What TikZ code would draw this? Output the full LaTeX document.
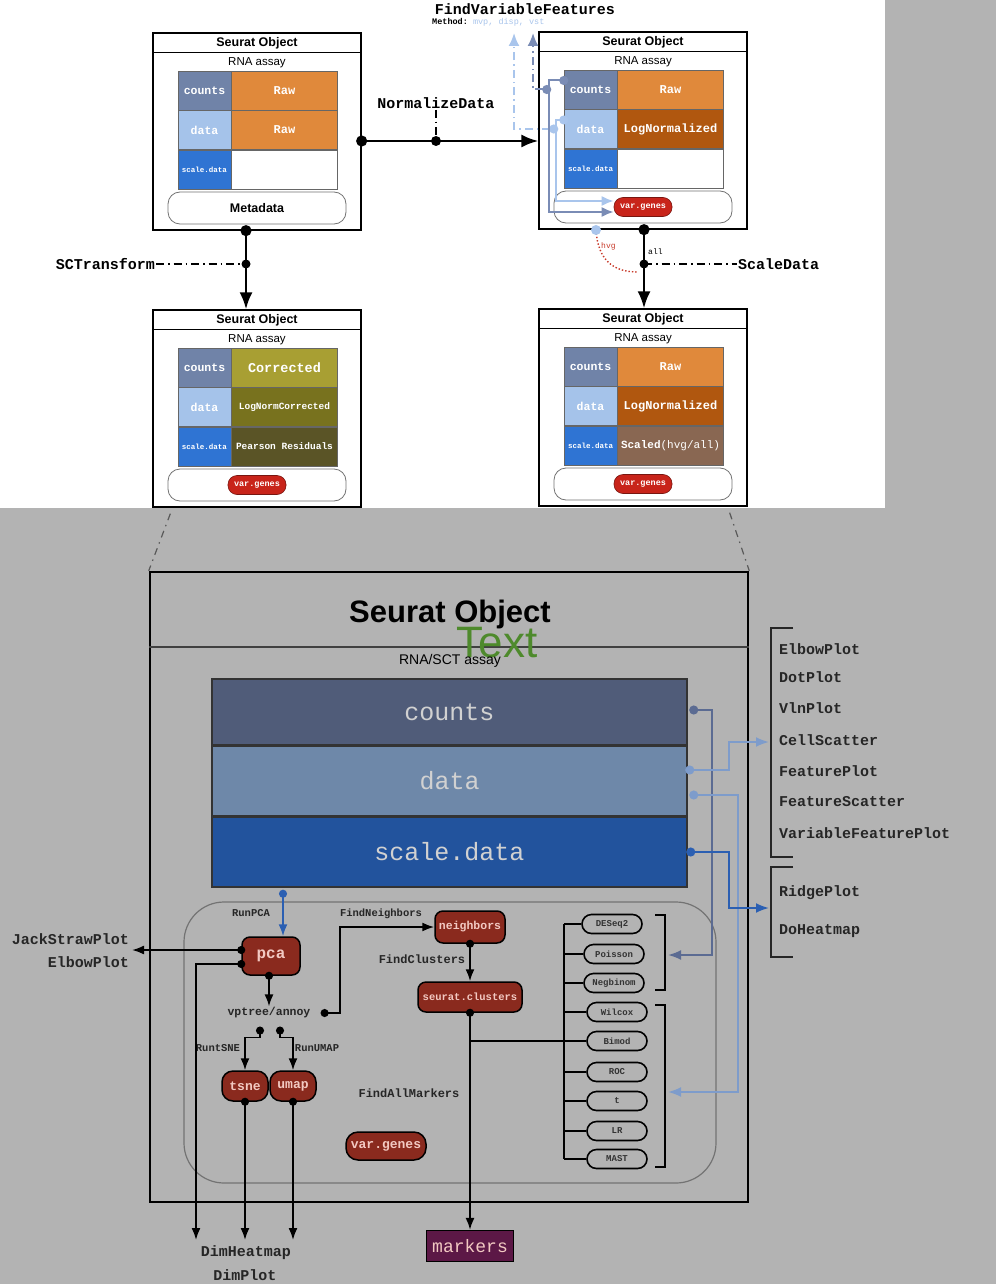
\documentclass[tikz,border=0pt]{standalone}
\usepackage{fontspec}
\setmainfont{Liberation Sans}
\setsansfont{Liberation Sans}
\setmonofont{Liberation Mono}
\usetikzlibrary{arrows.meta,positioning}
\definecolor{bggrey}{HTML}{B3B3B3}
\definecolor{cntcol}{HTML}{7083A8}
\definecolor{datcol}{HTML}{A5C3EA}
\definecolor{sclcol}{HTML}{2F74D3}
\definecolor{rawcol}{HTML}{E0893B}
\definecolor{lognormcol}{HTML}{B0570F}
\definecolor{corrcol}{HTML}{A89F33}
\definecolor{lncorrcol}{HTML}{78721E}
\definecolor{pearsoncol}{HTML}{5A5426}
\definecolor{scaledcol}{HTML}{896752}
\definecolor{pillred}{HTML}{C8241A}
\definecolor{darkred}{HTML}{8A2A1E}
\definecolor{pinktxt}{HTML}{F2C9C2}
\definecolor{bigcnt}{HTML}{505C79}
\definecolor{bigdat}{HTML}{6E88A9}
\definecolor{bigscl}{HTML}{22539D}
\definecolor{slatearr}{HTML}{5B6B92}
\definecolor{lightarr}{HTML}{7E9CCB}
\definecolor{deeparr}{HTML}{2B5FB2}
\definecolor{fvfblue}{HTML}{A9C5EC}
\definecolor{fvfslate}{HTML}{7A8CB5}
\definecolor{hvgred}{HTML}{C83A2A}
\definecolor{textgreen}{HTML}{4E8A2C}
\definecolor{markercol}{HTML}{5C1846}
\begin{document}
\begin{tikzpicture}[x=1pt,y=-1pt,
  objbox/.style={draw,line width=1.3pt,minimum width=208pt,minimum height=197pt,inner sep=0pt},
  lblcell/.style={draw=black!60,line width=0.5pt,minimum width=53pt,minimum height=39pt,inner sep=0pt,text=white,font=\ttfamily\bfseries\fontsize{11.5}{12}\selectfont},
  valcell/.style={draw=black!60,line width=0.5pt,minimum width=106pt,minimum height=39pt,inner sep=0pt,text=white,font=\ttfamily\bfseries\fontsize{12}{12}\selectfont},
  slotbox/.style={draw=black!55,line width=0.8pt,rounded corners=12pt,minimum width=178pt,minimum height=32pt,inner sep=0pt},
  redpill/.style={fill=pillred,draw=pillred!60!black,line width=0.6pt,rounded corners=9pt,minimum width=58pt,minimum height=19pt,inner sep=0pt,text=white,font=\ttfamily\bfseries\fontsize{8.5}{9}\selectfont},
  fnlbl/.style={font=\ttfamily\bfseries\fontsize{15}{15}\selectfont,inner sep=1pt},
  steplbl/.style={font=\ttfamily\bfseries\fontsize{10.5}{11}\selectfont,text=black!85,inner sep=1pt},
  plotlbl/.style={font=\ttfamily\bfseries\fontsize{15}{15}\selectfont,text=black!85,inner sep=0pt,anchor=west},
  rnode/.style={fill=darkred,draw=black,line width=1.5pt,rounded corners=8pt,inner sep=0pt,text=pinktxt},
  testpill/.style={draw=black,line width=1.6pt,rounded corners=9.5pt,minimum width=60pt,minimum height=19pt,inner sep=0pt,text=black!80,font=\ttfamily\bfseries\fontsize{9}{9}\selectfont},
  bigcell/.style={draw=black!80,line width=1.5pt,minimum width=475pt,inner sep=0pt,text=black!18,font=\ttfamily\fontsize{25}{25}\selectfont},
  flow/.style={line width=2.5pt,{Circle[length=11pt]}-{Latex[length=17pt,width=13pt]},shorten <=-5.5pt},
  link/.style={line width=1.8pt,{Circle[length=8pt]}-{Latex[length=12pt,width=9pt]},shorten <=-4pt},
  rlink/.style={line width=2pt,{Circle[length=9pt]}-{Latex[length=13pt,width=10pt]},shorten <=-4.5pt},
  ddot/.style={line width=1.6pt,dash pattern=on 8pt off 4pt on 1.5pt off 4pt},
]
\useasboundingbox (0,0) rectangle (996,1284);
\fill[bggrey] (0,0) rectangle (996,1284);
\fill[white] (0,0) rectangle (885,508);

% the four small objects
\foreach \n/\px/\py in {tl/153/33,tr/539/32,bl/153/310,br/539/309}{
  \node[objbox] (box-\n) at (\px+104,\py+98.5) {};
  \draw[line width=1.3pt] ([yshift=-20pt]box-\n.north west) -- ([yshift=-20pt]box-\n.north east);
  \node[font=\sffamily\bfseries\fontsize{12.5}{13}\selectfont] (ttl-\n) at (\px+104,\py+10) {Seurat Object};
  \node[font=\sffamily\fontsize{11.5}{12}\selectfont] (asy-\n) at (\px+104,\py+30) {RNA assay};
  \node[lblcell,fill=cntcol] (cnt-\n) at (\px+51.5,\py+57.5) {counts};
  \node[lblcell,fill=datcol,below=0pt of cnt-\n] (dat-\n) {data};
  \node[lblcell,fill=sclcol,below=0pt of dat-\n,font=\ttfamily\bfseries\fontsize{7.5}{8}\selectfont] (scl-\n) {scale.data};
  \node[slotbox] (bot-\n) at (\px+104,\py+175) {};
}
\node[valcell,fill=rawcol,right=0pt of cnt-tl] (v1-tl) {Raw};
\node[valcell,fill=rawcol,right=0pt of dat-tl] (v2-tl) {Raw};
\node[valcell,fill=white,right=0pt of scl-tl] (v3-tl) {};
\node[font=\sffamily\bfseries\fontsize{12.5}{13}\selectfont] (meta-tl) at (bot-tl) {Metadata};
\node[valcell,fill=rawcol,right=0pt of cnt-tr] (v1-tr) {Raw};
\node[valcell,fill=lognormcol,right=0pt of dat-tr] (v2-tr) {LogNormalized};
\node[valcell,fill=white,right=0pt of scl-tr] (v3-tr) {};
\node[redpill] (vg-tr) at (bot-tr) {var.genes};
\node[valcell,fill=corrcol,right=0pt of cnt-bl,font=\ttfamily\bfseries\fontsize{13.5}{14}\selectfont] (v1-bl) {Corrected};
\node[valcell,fill=lncorrcol,right=0pt of dat-bl,font=\ttfamily\bfseries\fontsize{9.5}{10}\selectfont] (v2-bl) {LogNormCorrected};
\node[valcell,fill=pearsoncol,right=0pt of scl-bl,font=\ttfamily\bfseries\fontsize{9.5}{10}\selectfont] (v3-bl) {Pearson Residuals};
\node[redpill] (vg-bl) at (bot-bl) {var.genes};
\node[valcell,fill=rawcol,right=0pt of cnt-br] (v1-br) {Raw};
\node[valcell,fill=lognormcol,right=0pt of dat-br] (v2-br) {LogNormalized};
\node[valcell,fill=scaledcol,right=0pt of scl-br,font=\ttfamily\bfseries\fontsize{11}{11}\selectfont] (v3-br) {Scaled{\mdseries(hvg/all)}};
\node[redpill] (vg-br) at (bot-br) {var.genes};

% NormalizeData
\coordinate (ndmid) at (436,141);
\draw[flow] (box-tl.east |- ndmid) -- (box-tr.west |- ndmid);
\fill (ndmid) circle (5pt);
\node[fnlbl] (ndlbl) at (436,103) {NormalizeData};
\draw[ddot] (ndlbl.south) -- (ndmid);

% SCTransform
\coordinate (sctmid) at (246,264);
\draw[flow] (box-tl.south -| sctmid) -- (box-bl.north -| sctmid);
\fill (sctmid) circle (4.5pt);
\node[fnlbl,anchor=east] (sctlbl) at (156,264) {SCTransform};
\draw[ddot] (sctlbl.east) -- (sctmid);

% ScaleData
\coordinate (scdmid) at (644,264);
\draw[flow] (box-tr.south -| scdmid) -- (box-br.north -| scdmid);
\fill (scdmid) circle (4.5pt);
\node[fnlbl,anchor=west] (scdlbl) at (737,264) {ScaleData};
\draw[ddot] (scdmid) -- (scdlbl.west);
\node[font=\ttfamily\fontsize{8}{8}\selectfont,anchor=west,inner sep=0pt] (alllbl) at (648,252) {all};
\coordinate (hvgsrc) at (596,230);
\draw[hvgred,line width=1.4pt,dotted] (hvgsrc) .. controls (598,262) and (615,272) .. (638,272);
\fill[fvfblue] (hvgsrc) circle (5pt);
\node[text=hvgred,font=\ttfamily\fontsize{8}{8}\selectfont,inner sep=0pt,anchor=west] (hvglbl) at (601,246) {hvg};

% FindVariableFeatures
\node[fnlbl] (fvflbl) at (525,9) {FindVariableFeatures};
\node[font=\ttfamily\bfseries\fontsize{8.5}{9}\selectfont,anchor=west,inner sep=0pt] (methlbl) at (432,22) {Method: \textcolor{fvfblue}{\mdseries mvp, disp, vst}};
\coordinate (fvfa) at (514,33);
\coordinate (fvfb) at (533,33);
\draw[fvfblue,ddot,line width=2pt,{Circle[length=9pt]}-{Latex[length=13pt,width=11pt]},shorten <=-4.5pt] ([xshift=-10pt]dat-tr.west) -| (fvfa);
\draw[fvfslate,ddot,line width=2pt,{Circle[length=9pt]}-{Latex[length=13pt,width=11pt]},shorten <=-4.5pt] ([xshift=-17pt]cnt-tr.west) -| (fvfb);
\draw[fvfslate,line width=2pt,{Circle[length=9pt]}-{Latex[length=12pt,width=10pt]},shorten <=-4.5pt] ([yshift=9pt]cnt-tr.west) -- ++(-15,0) |- ([yshift=-5pt]vg-tr.west);
\draw[fvfblue,line width=2pt,{Circle[length=9pt]}-{Latex[length=12pt,width=10pt]},shorten <=-4.5pt] ([yshift=9pt]dat-tr.west) -- ++(-8,0) |- ([yshift=6pt]vg-tr.west);

% the big object
\node[draw,line width=2.5pt,minimum width=598pt,minimum height=630pt,inner sep=0pt] (big) at (449,887) {};
\draw[black!65,line width=1.2pt,dash pattern=on 7pt off 5pt on 1.5pt off 5pt] ([xshift=18pt,yshift=-6pt]box-bl.south west) -- (big.north west);
\draw[black!65,line width=1.2pt,dash pattern=on 7pt off 5pt on 1.5pt off 5pt] ([xshift=-18pt,yshift=-6pt]box-br.south east) -- (big.north east);
\draw[black!75,line width=1.5pt] ([yshift=-76pt]big.north west) -- ([yshift=-76pt]big.north east);
\node[font=\sffamily\bfseries\fontsize{31}{31}\selectfont] (bigttl) at (450,614) {Seurat Object};
\node[text=textgreen,font=\sffamily\fontsize{44}{44}\selectfont] (greentxt) at (497,643) {Text};
\node[font=\sffamily\fontsize{14}{14}\selectfont] (bigasy) at (450,661) {RNA/SCT assay};
\node[bigcell,fill=bigcnt,minimum height=66pt] (bcnt) at (449.5,712) {counts};
\node[bigcell,fill=bigdat,minimum height=69pt,below=0pt of bcnt] (bdat) {data};
\node[bigcell,fill=bigscl,minimum height=70pt,below=0pt of bdat] (bscl) {scale.data};
\draw[black!55,line width=1.2pt,rounded corners=40pt] (184,902) rectangle (716,1183);

% plots on the right
\foreach \t/\y in {ElbowPlot/649,DotPlot/677,VlnPlot/708,CellScatter/740,FeaturePlot/771,FeatureScatter/802,VariableFeaturePlot/833,RidgePlot/893,DoHeatmap/931}
  \node[plotlbl] (\t) at (779,\y) {\t};
\draw[line width=1.6pt,black!85] (793,628) -- (771,628) -- (771,857) -- (793,857);
\draw[line width=1.6pt,black!85] (793,867) -- (771,867) -- (771,957) -- (793,957);
\coordinate (plotA) at (769,742);
\coordinate (plotB) at (769,908);

% tests
\coordinate (trunk) at (564,924);
\foreach \t/\nm/\tx/\ty in {DESeq2/deseq/612/924,Poisson/poisson/614/954,Negbinom/negbinom/614/983,Wilcox/wilcox/617/1012,Bimod/bimod/617/1041,ROC/roc/617/1072,t/ttest/617/1101,LR/lr/617/1131,MAST/mast/617/1159}{
  \node[testpill] (\nm) at (\tx,\ty) {\t};
  \draw[line width=1.8pt] (\nm.west -| trunk) -- (\nm.west);
}
\draw[line width=1.8pt] (trunk) -- (mast.west -| trunk);
\draw[line width=1.4pt] (655,915) -- (665,915) -- (665,990) -- (655,990);
\draw[line width=1.4pt] (655,1005) -- (665,1005) -- (665,1167) -- (655,1167);
\coordinate (brA) at (668,955);
\coordinate (brB) at (668,1092);

\draw[slatearr,rlink] ([xshift=6pt,yshift=2pt]bcnt.east) -- ++(18,0) |- (brA);
\draw[lightarr,rlink] ([xshift=2pt,yshift=11pt]bdat.east) -- ++(39,0) |- (plotA);
\draw[lightarr,rlink] ([xshift=6pt,yshift=-14pt]bdat.east) -- ++(44,0) |- (brB);
\draw[deeparr,rlink] ([xshift=3pt]bscl.east) -- ++(38,0) |- (plotB);

% analysis steps
\node[rnode,minimum width=58pt,minimum height=38pt,font=\ttfamily\bfseries\fontsize{16}{16}\selectfont] (pca) at (271,956) {pca};
\node[rnode,minimum width=70pt,minimum height=32pt,font=\ttfamily\bfseries\fontsize{11.5}{12}\selectfont] (neighbors) at (470,927) {neighbors};
\node[rnode,minimum width=104pt,minimum height=30pt,font=\ttfamily\bfseries\fontsize{10.5}{11}\selectfont] (clusters) at (470,997) {seurat.clusters};
\node[rnode,minimum width=46pt,minimum height=30pt,rounded corners=11pt,font=\ttfamily\bfseries\fontsize{13}{13}\selectfont] (tsne) at (245,1086) {tsne};
\node[rnode,minimum width=46pt,minimum height=30pt,rounded corners=11pt,font=\ttfamily\bfseries\fontsize{13}{13}\selectfont] (umap) at (293,1086) {umap};
\node[rnode,minimum width=80pt,minimum height=28pt,rounded corners=12pt,font=\ttfamily\bfseries\fontsize{13}{13}\selectfont] (vargenes) at (386,1146) {var.genes};
\node[fill=markercol,draw=black,line width=1.2pt,minimum width=87pt,minimum height=31pt,text=pinktxt,font=\ttfamily\fontsize{18}{18}\selectfont] (markers) at (470,1246) {markers};

\node[steplbl] (runpca) at (251,913) {RunPCA};
\node[steplbl] (findnb) at (381,914) {FindNeighbors};
\node[steplbl,font=\ttfamily\bfseries\fontsize{12}{12}\selectfont] (findcl) at (422,959) {FindClusters};
\node[steplbl,font=\ttfamily\bfseries\fontsize{11.5}{12}\selectfont] (vptree) at (269,1013) {vptree/annoy};
\node[steplbl] (runtsne) at (218,1048) {RuntSNE};
\node[steplbl] (runumap) at (317,1048) {RunUMAP};
\node[steplbl,font=\ttfamily\bfseries\fontsize{12}{12}\selectfont] (findall) at (409,1093) {FindAllMarkers};

\node[plotlbl,anchor=east] (jsp) at (129,939) {JackStrawPlot};
\node[plotlbl,anchor=east] (elbow2) at (129,962) {ElbowPlot};
\node[plotlbl,anchor=center] (dimheat) at (246,1253) {DimHeatmap};
\node[plotlbl,anchor=center] (dimplot) at (245,1275) {DimPlot};
\coordinate (jspend) at (132,950);
\coordinate (dimend) at (196,1240);

\path (bscl.south -| pca.north) ++(12,6) coordinate (pcasrc);
\draw[deeparr,link] (pcasrc) -- (pcasrc |- pca.north);
\draw[link] ([yshift=6pt]pca.west) -- (jspend);
\draw[link] ([yshift=-8pt]pca.west) -| (dimend);
\draw[link] (tsne.south) -- (tsne.south |- dimend);
\draw[link] (umap.south) -- (umap.south |- dimend);
\draw[link] ([xshift=-2pt]pca.south) -- ([xshift=-2pt]pca.south |- vptree.north);
\draw[link] ([xshift=13pt]vptree.east) -- ++(15,0) |- (neighbors.west);
\draw[link] ([xshift=-9pt,yshift=-11pt]vptree.south) -- ++(0,7) -| (tsne.north);
\draw[link] ([xshift=11pt,yshift=-11pt]vptree.south) -- ++(0,7) -| (umap.north);
\draw[link] (neighbors.south) -- (clusters.north);
\draw[link] (clusters.south) -- (markers.north);
\draw[line width=1.8pt] (clusters.south |- bimod.west) -- (bimod.west -| trunk);
\end{tikzpicture}
\end{document}
